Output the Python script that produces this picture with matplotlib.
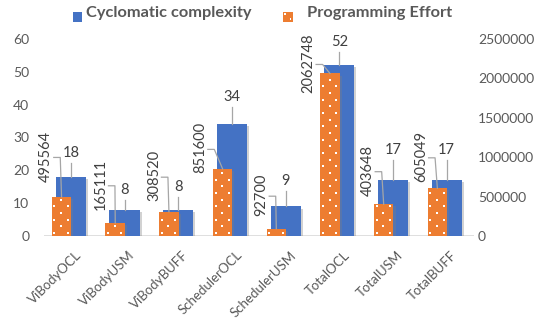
import matplotlib
matplotlib.use("Agg")
import matplotlib.pyplot as plt
import numpy as np
from matplotlib.patches import Rectangle
from matplotlib.lines import Line2D
from matplotlib.transforms import IdentityTransform
import matplotlib.patheffects as pe

# ---- data ----
categories = ["ViBodyOCL", "ViBodyUSM", "ViBodyBUFF", "SchedulerOCL",
              "SchedulerUSM", "TotalOCL", "TotalUSM", "TotalBUFF"]
cyclomatic = [18, 8, 8, 34, 9, 52, 17, 17]
effort = [495564, 165111, 308520, 851600, 92700, 2062748, 403648, 605049]
left_ticks = [0, 10, 20, 30, 40, 50, 60]
right_ticks = [0, 500000, 1000000, 1500000, 2000000, 2500000]
series_names = ["Cyclomatic complexity", "Programming Effort"]

# ---- label placement (pixels) ----
blue_label_rise = [24, 20, 23, 27, 25, 23, 30, 30]
orange_label_dx = [-15.3, -14.3, -15, -22.3, -14.6, -21.4, -16, -16.3]
orange_label_rise = [41, 38.7, 36, 21, 34, 10.5, 34, 32]

BLUE = "#4472C4"
ORANGE = "#ED7D31"
TICK = "#595959"
LABEL = "#404040"
LEADER = "#A6A6A6"
AXISLINE = "#D9D9D9"

plt.rcParams['font.family'] = ['Lato', 'DejaVu Sans']

W, H = 536, 322
fig = plt.figure(figsize=(W / 100, H / 100), dpi=100)
px = IdentityTransform()

ax = fig.add_axes([44 / W, (H - 236) / H, (473.5 - 44) / W, (236 - 39) / H])
ax2 = ax.twinx()
n = len(categories)
x = np.arange(n)
ax.set_xlim(-0.5, n - 0.5)
ax.set_ylim(0, 60)
ax2.set_ylim(0, 2500000)

blue_w = 0.56
orange_w = 0.364
orange_shift = -0.173

shadow = [pe.SimplePatchShadow(offset=(1.5, -1.5), shadow_rgbFace="#808080", alpha=0.35),
          pe.Normal()]
ax.bar(x, cyclomatic, width=blue_w, color=BLUE, zorder=2, path_effects=shadow)
obars = ax2.bar(x + orange_shift, effort, width=orange_w, color=ORANGE, zorder=2,
                path_effects=shadow)

for a in (ax, ax2):
    for s in a.spines.values():
        s.set_visible(False)
    a.tick_params(length=0, labelsize=10, labelcolor=TICK)

ax.set_yticks(left_ticks)
ax.set_yticklabels([str(t) for t in left_ticks])
ax.tick_params(axis='y', pad=10.5)
ax2.set_yticks(right_ticks)
ax2.set_yticklabels([str(t) for t in right_ticks])
ax2.tick_params(axis='y', pad=3.2)
ax.set_xticks([])
ax2.set_xticks([])

# baseline
ax.axhline(0, color=AXISLINE, lw=1.2, zorder=1)

# category labels, rotated
for i, name in enumerate(categories):
    ax.annotate(name, xy=(i, 0), xycoords=('data', 'axes fraction'),
                xytext=(4, -13), textcoords='offset pixels',
                rotation=45, rotation_mode='anchor', ha='right', va='top',
                fontsize=9.5, color=TICK)

fig.canvas.draw()

# dotted fill on the orange bars
for bar in obars:
    (x0, y0), (x1, y1) = bar.get_window_extent().get_points()
    k = 0
    yy = y0 + 3
    while yy < y1 - 1.5:
        offs = [2.7, 16.0] if k % 2 == 0 else [9.3]
        for o in offs:
            if x0 + o + 2 <= x1:
                fig.add_artist(Rectangle((x0 + o - 1, yy - 1), 2, 2, transform=px,
                                         facecolor="white", edgecolor="none", zorder=5))
        yy += 6.67
        k += 1

# value labels with leader lines
for i in range(n):
    bx, by = ax.transData.transform((i, cyclomatic[i]))
    rise = blue_label_rise[i]
    fig.add_artist(Line2D([bx, bx], [by, by + rise - 10], transform=px,
                          color=LEADER, lw=0.9, zorder=4))
    fig.text(bx, by + rise, str(cyclomatic[i]), transform=px, ha='center', va='center',
             fontsize=10.5, color=LABEL, zorder=6)

    ox, oy = ax2.transData.transform((i + orange_shift, effort[i]))
    lx = ox + orange_label_dx[i]
    ly = oy + orange_label_rise[i]
    fig.add_artist(Line2D([lx + 7.5, lx + 14, ox], [ly - 1.5, ly - 1.5, oy], transform=px,
                          color=LEADER, lw=0.9, zorder=6))
    fig.text(lx, ly, str(effort[i]), transform=px, ha='center', va='center',
             rotation=90, fontsize=10.5, color=LABEL, zorder=6)

# legend
fig.add_artist(Rectangle((72.5, H - 21.5), 9.5, 9.5, transform=px,
                         facecolor=BLUE, edgecolor='none'))
fig.text(85.5, H - 17.5, series_names[0], transform=px, ha='left', va='baseline',
         fontsize=11.8, fontweight='bold', color=TICK)
fig.add_artist(Rectangle((282.5, H - 21.7), 10.5, 10, transform=px,
                         facecolor=ORANGE, edgecolor='none'))
for (dx, dy) in [(2.5, 7.5), (8, 2.5)]:
    fig.add_artist(Rectangle((282.5 + dx - 1, H - 21.7 + dy - 1), 1.8, 1.8, transform=px,
                             facecolor='white', edgecolor='none', zorder=3))
fig.text(307.3, H - 17.5, series_names[1], transform=px, ha='left', va='baseline',
         fontsize=11.8, fontweight='bold', color=TICK)

fig.savefig("out.png", dpi=100)
